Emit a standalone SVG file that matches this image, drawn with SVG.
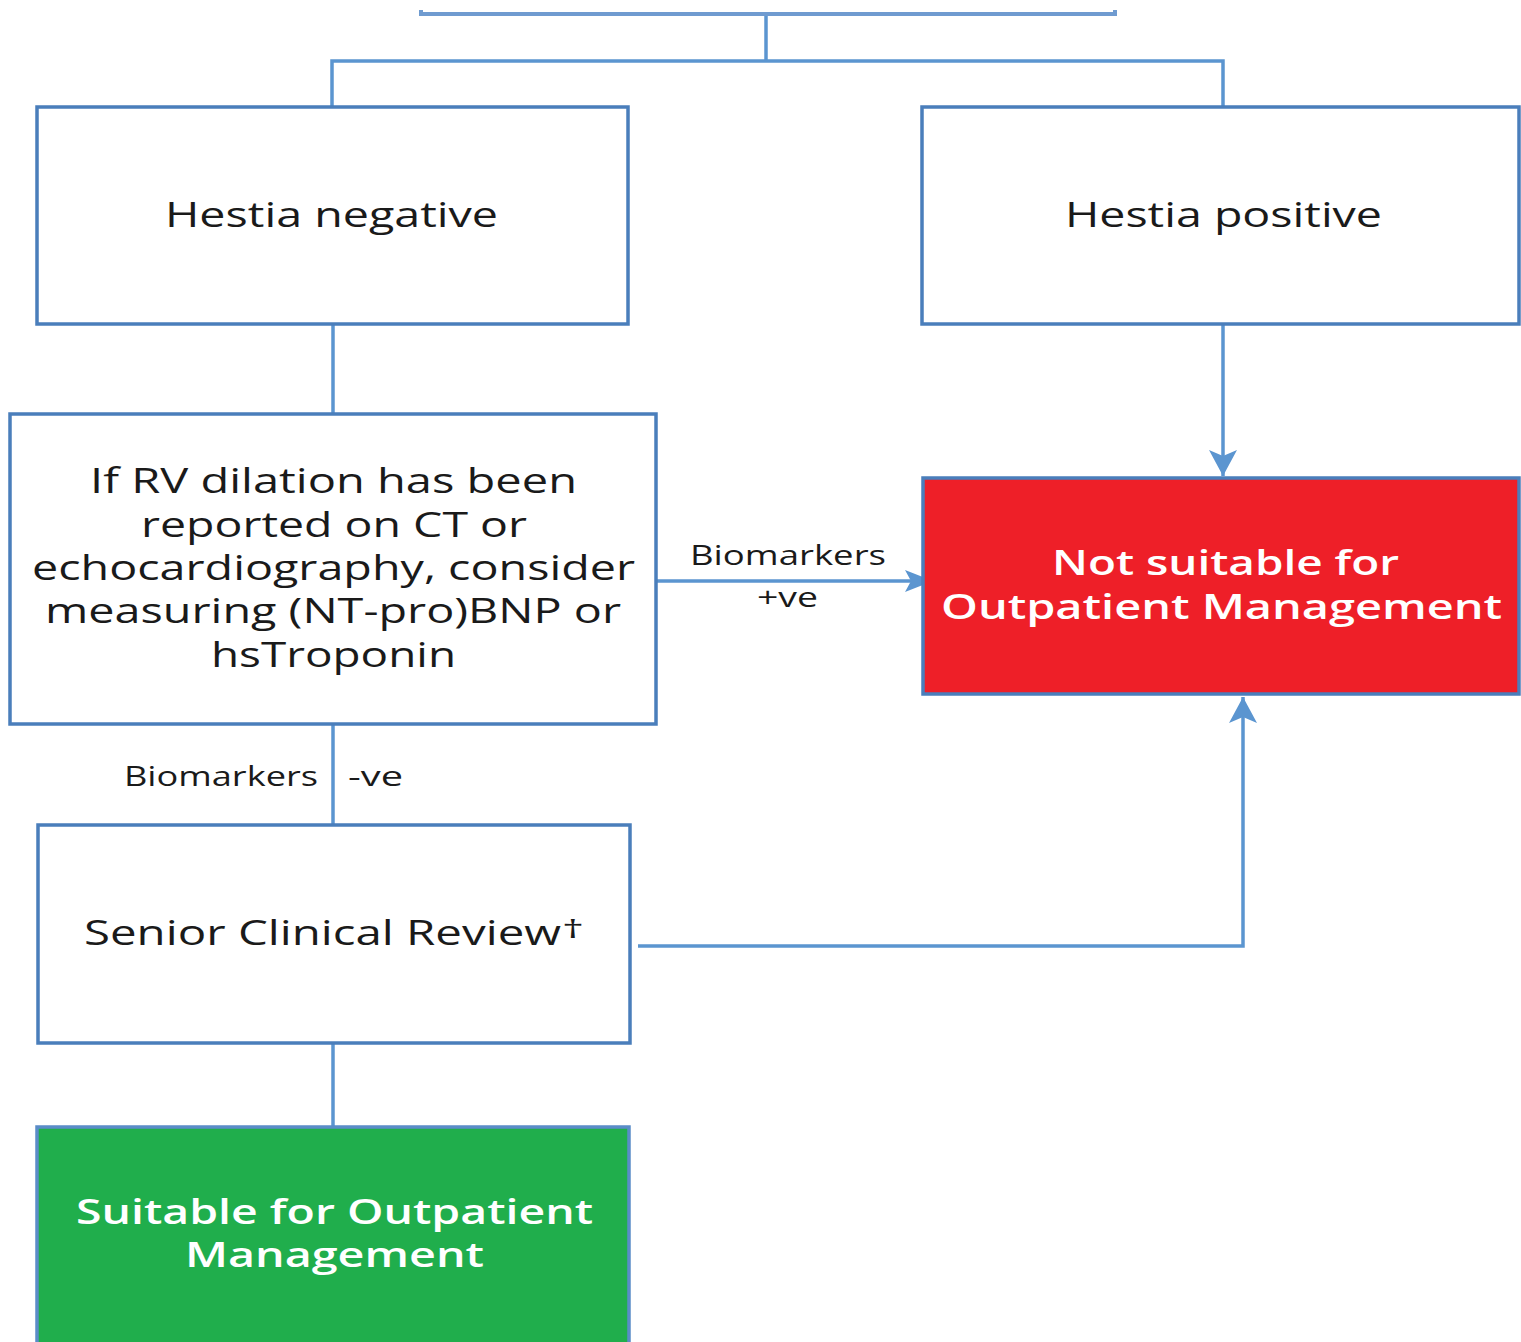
<svg xmlns="http://www.w3.org/2000/svg" width="1521" height="1342" viewBox="0 0 1521 1342">
<style>
.box{fill:#ffffff;stroke:#4a7ebb;stroke-width:3.5}
.red{fill:#ee1f28;stroke:#4a7ebb;stroke-width:3.5}
.green{fill:#20ae4c;stroke:#5a8cc8;stroke-width:3.5}
.conn{fill:none;stroke:#5b95d0;stroke-width:3.5}
.edge{fill:none;stroke:#6f9bd0;stroke-width:4}
.t{font-family:"Open Sans","Liberation Sans",sans-serif;font-size:34px;fill:#1a1a1a}
.w{font-family:"Open Sans","Liberation Sans",sans-serif;font-size:34px;fill:#ffffff;font-weight:600}
.l{font-family:"Open Sans","Liberation Sans",sans-serif;font-size:27px;fill:#1a1a1a}
</style>
<defs>
<marker id="ah" markerUnits="userSpaceOnUse" markerWidth="40" markerHeight="40" viewBox="-30 -20 34 40" refX="0" refY="0" orient="auto">
<path d="M0,0 L-26,-14 L-20,0 L-26,14 Z" fill="#5b95d0"/>
</marker>
<marker id="ahs" markerUnits="userSpaceOnUse" markerWidth="40" markerHeight="40" viewBox="-30 -20 34 40" refX="0" refY="0" orient="auto">
<path d="M0,0 L-28,-11 L-22,0 L-28,11 Z" fill="#5b95d0"/>
</marker>
</defs>

<g id="connectors">
<line class="conn" x1="766" y1="14" x2="766" y2="61"/>
<polyline class="conn" points="332,107 332,61 1223,61 1223,107"/>
<line class="conn" x1="333" y1="324" x2="333" y2="414"/>
<line class="conn" x1="1223" y1="324" x2="1223" y2="476" marker-end="url(#ah)"/>
<line class="conn" x1="657" y1="581" x2="933" y2="581" marker-end="url(#ahs)"/>
<line class="conn" x1="333" y1="724" x2="333" y2="825"/>
<polyline class="conn" points="638,946 1243,946 1243,697" marker-end="url(#ah)"/>
<line class="conn" x1="333" y1="1043" x2="333" y2="1126"/>
<text class="l" x="690" y="565" textLength="196" lengthAdjust="spacingAndGlyphs">Biomarkers</text>
<text class="l" x="757" y="607" textLength="61" lengthAdjust="spacingAndGlyphs">+ve</text>
<text class="l" x="124" y="786" textLength="194" lengthAdjust="spacingAndGlyphs">Biomarkers</text>
<text class="l" x="348" y="786" textLength="55" lengthAdjust="spacingAndGlyphs">-ve</text>
</g>

<g id="top-box">
<polyline class="edge" points="421,10 421,14 1115,14 1115,10"/>
</g>

<g id="hestia-negative">
<rect class="box" x="37" y="107" width="591" height="217"/>
<text class="t" x="165" y="227" textLength="333" lengthAdjust="spacingAndGlyphs">Hestia negative</text>
</g>

<g id="hestia-positive">
<rect class="box" x="922" y="107" width="597" height="217"/>
<text class="t" x="1065" y="227" textLength="317" lengthAdjust="spacingAndGlyphs">Hestia positive</text>
</g>

<g id="rv-dilation">
<rect class="box" x="10" y="414" width="646" height="310"/>
<text class="t" x="90" y="493" textLength="487" lengthAdjust="spacingAndGlyphs">If RV dilation has been</text>
<text class="t" x="141" y="537" textLength="386" lengthAdjust="spacingAndGlyphs">reported on CT or</text>
<text class="t" x="32" y="580" textLength="603" lengthAdjust="spacingAndGlyphs">echocardiography, consider</text>
<text class="t" x="45" y="623" textLength="576" lengthAdjust="spacingAndGlyphs">measuring (NT-pro)BNP or</text>
<text class="t" x="211" y="667" textLength="245" lengthAdjust="spacingAndGlyphs">hsTroponin</text>
</g>

<g id="not-suitable">
<rect class="red" x="923" y="478" width="596" height="216"/>
<text class="w" x="1052" y="575" textLength="347" lengthAdjust="spacingAndGlyphs">Not suitable for</text>
<text class="w" x="941" y="619" textLength="561" lengthAdjust="spacingAndGlyphs">Outpatient Management</text>
</g>

<g id="senior-review">
<rect class="box" x="38" y="825" width="592" height="218"/>
<text class="t" x="84" y="945" textLength="477" lengthAdjust="spacingAndGlyphs">Senior Clinical Review</text>
<text class="t" x="562" y="938" style="font-size:26px" textLength="22" lengthAdjust="spacingAndGlyphs">†</text>
</g>

<g id="suitable">
<rect class="green" x="37" y="1127" width="592" height="240"/>
<text class="w" x="76" y="1224" textLength="517" lengthAdjust="spacingAndGlyphs">Suitable for Outpatient</text>
<text class="w" x="185" y="1267" textLength="299" lengthAdjust="spacingAndGlyphs">Management</text>
</g>
</svg>
